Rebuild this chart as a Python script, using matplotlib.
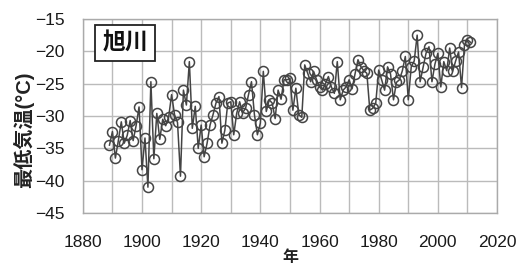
import matplotlib
matplotlib.use("Agg")
from matplotlib import pyplot as plt

plt.rcParams['font.family'] = ['Liberation Sans', 'Noto Sans CJK JP', 'DejaVu Sans']

# annual minimum temperature, Asahikawa
years = list(range(1889, 2012))
temps = [
    -34.5, -32.4, -36.5, -33.8, -30.9, -34.2, -33.0, -30.7, -33.8, -31.5,   # 1889-1898
    -28.6, -38.3, -33.4, -41.0, -24.7, -36.6, -29.6, -33.6, -30.5, -31.5,   # 1899-1908
    -30.2, -26.7, -29.8, -31.0, -39.3, -26.0, -28.3, -21.6, -31.9, -28.5,   # 1909-1918
    -35.0, -31.4, -36.3, -34.2, -31.4, -29.8, -28.0, -27.0, -34.2, -32.2,   # 1919-1928
    -28.0, -27.8, -32.9, -29.6, -27.8, -29.5, -28.8, -26.7, -24.7, -29.8,   # 1929-1938
    -32.9, -31.1, -23.1, -29.3, -27.5, -28.0, -30.4, -26.0, -27.4, -24.4,   # 1939-1948
    -24.4, -24.2, -29.1, -25.7, -29.8, -30.2, -22.1, -23.4, -24.7, -23.1,   # 1949-1958
    -24.4, -25.5, -26.0, -25.0, -23.9, -25.5, -26.5, -21.6, -27.5, -26.0,   # 1959-1968
    -25.5, -24.4, -25.8, -23.5, -21.3, -22.4, -23.0, -23.4, -29.1, -28.8,   # 1969-1978
    -28.0, -22.9, -24.4, -26.0, -22.4, -23.5, -27.5, -24.8, -24.4, -23.0,   # 1979-1988
    -20.8, -27.5, -22.4, -21.5, -17.5, -24.7, -22.5, -20.3, -19.3, -24.7,   # 1989-1998
    -22.0, -20.3, -25.5, -21.6, -23.0, -19.5, -23.1, -21.5, -20.1, -25.6,   # 1999-2008
    -19.0, -18.2, -18.6,                                                    # 2009-2011
]
xticks = list(range(1880, 2021, 20))
yticks = list(range(-45, -14, 5))

fig = plt.figure(figsize=(5.21, 2.67), dpi=100)
ax = fig.add_axes([0.159, 0.202, 0.795, 0.727])

ax.plot(years, temps, color='#444444', lw=1.1, marker='o', ms=7.2,
        mfc='none', mec='#444444', mew=1.1, zorder=3)

ax.set_xlim(1880, 2020)
ax.set_ylim(-45, -15)
ax.set_xticks(range(1880, 2021, 10))
ax.set_xticklabels([str(y) if y in xticks else '' for y in range(1880, 2021, 10)])
ax.set_yticks(yticks)
ax.grid(True, color='#bbbbbb', lw=1.0)
for s in ax.spines.values():
    s.set_color('#aaaaaa')
    s.set_linewidth(1.0)
ax.tick_params(length=0, labelsize=12.5, colors='#1a1a1a')
ax.tick_params(axis='x', pad=16)
ax.tick_params(axis='y', pad=13)

ax.text(0.102, 0.876, '旭川', transform=ax.transAxes, ha='center', va='center',
        fontsize=16.5, fontweight='bold', color='#111111',
        bbox=dict(boxstyle='square,pad=0.3', fc='white', ec='#222222', lw=1.3),
        zorder=5)

fig.text(0.046, 1 - 130 / 267, '最低気温(°C)', rotation=90, ha='center', va='center',
         fontsize=14.5, fontweight='bold', color='#222222')
fig.text(0.557, 0.035, '年', ha='center', va='center', fontsize=11.5,
         fontweight='bold', color='#222222')

fig.savefig('out.png', dpi=100)
